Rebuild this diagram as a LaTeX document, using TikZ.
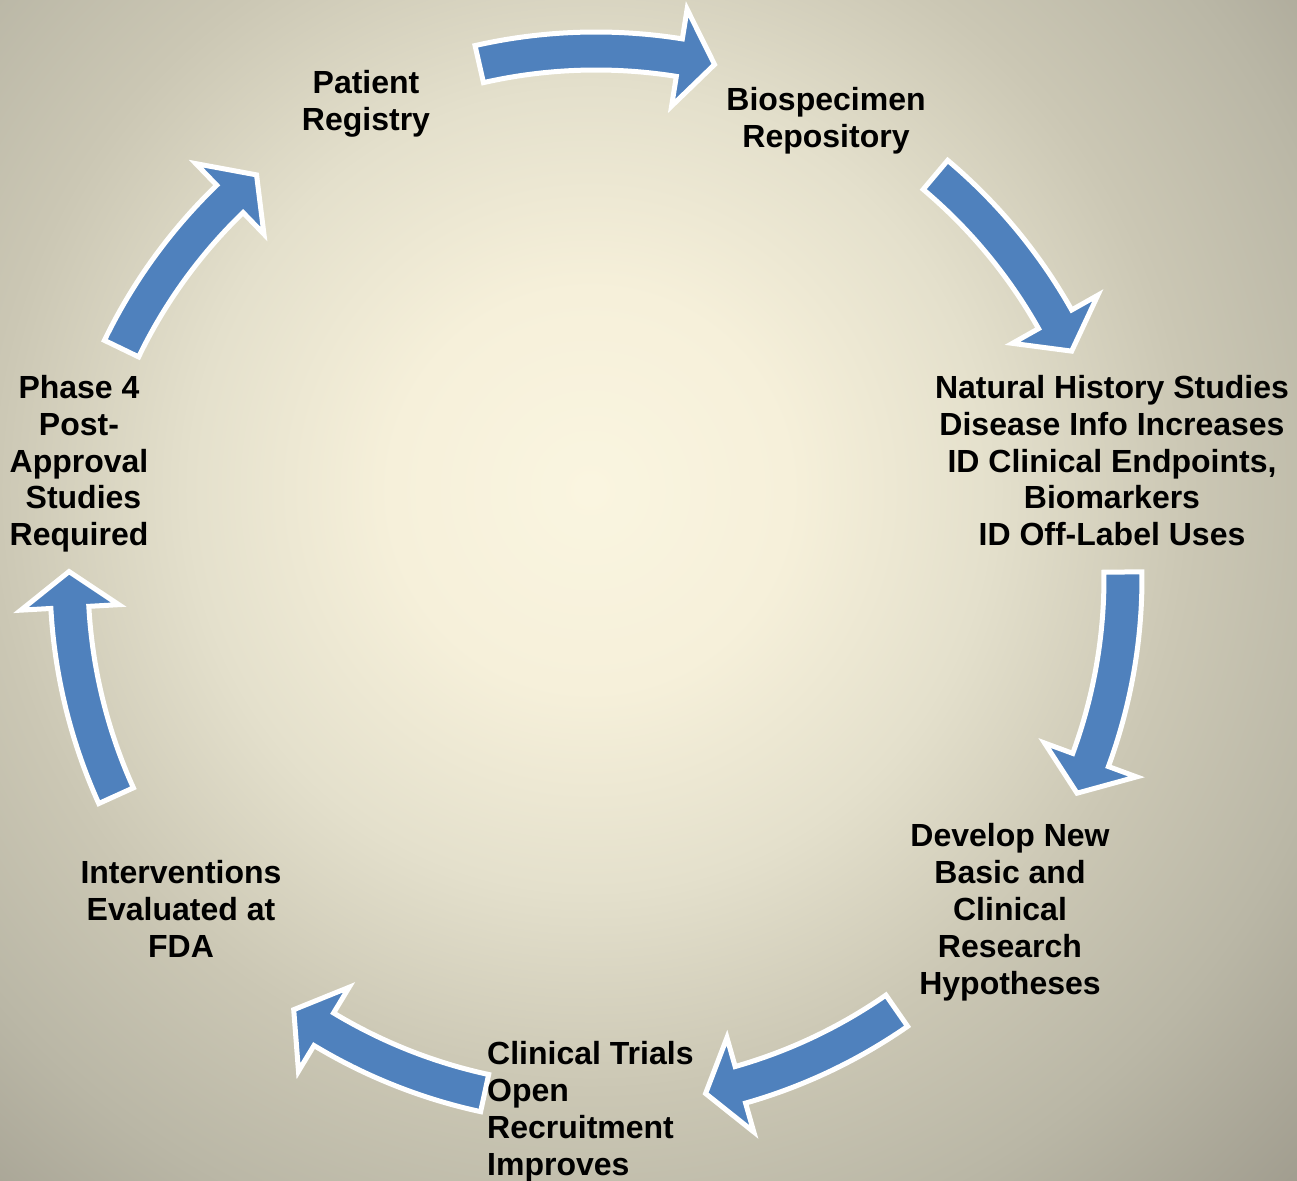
\documentclass[tikz,border=0pt]{standalone}
\usepackage{fontspec}
\setmainfont{Liberation Sans}
\definecolor{arrowblue}{RGB}{79,129,189}
\definecolor{bgA}{RGB}{250,245,224}
\definecolor{bgB}{RGB}{246,240,218}
\definecolor{bgC}{RGB}{228,224,204}
\definecolor{bgD}{RGB}{203,199,180}
\definecolor{bgE}{RGB}{186,183,166}
\definecolor{bgF}{RGB}{160,156,142}
\pgfdeclareradialshading{bgshade}{\pgfpoint{0bp}{0bp}}{color(0bp)=(bgA); color(5bp)=(bgB); color(10bp)=(bgC); color(15bp)=(bgD); color(19.5bp)=(bgE); color(25bp)=(bgF); color(50bp)=(bgF)}
\newcommand\lstrut{\rule{0pt}{0.95em}}
\newcommand\rstrut{\rule[-0.23em]{0pt}{0.23em}}
\newcommand\cycarrow[2]{%
  \pgfmathsetmacro\hb{#2+3.9}%
  \draw[cyclearrow,shift={(C)}] (#1:546) arc[start angle=#1, end angle=\hb, radius=546]
    -- (\hb:576) -- (#2:527) -- (\hb:478) -- (\hb:508)
    arc[start angle=\hb, end angle=#1, radius=508] -- cycle;}
\begin{document}
\begin{tikzpicture}[x=1pt,y=1pt,
  cyclearrow/.style={fill=arrowblue, draw=white, line width=5pt, line join=miter},
  txtlbl/.style={font=\fontsize{32}{36.8}\selectfont\bfseries, align=center, inner sep=0pt, text=black}]
\path[use as bounding box] (0,0) rectangle (1297,1180);
\clip (0,0) rectangle (1297,1180);
\shade[shading=bgshade] (-410,-310) rectangle (1590,1690);
\coordinate (C) at (596,602);
\cycarrow{102.8}{77.0}
\cycarrow{49.9}{25.5}
\cycarrow{0.65}{-24.1}
\cycarrow{-55.2}{-78.0}
\cycarrow{-102.2}{-125.0}
\cycarrow{-155.6}{-180.7}
\cycarrow{154.2}{130.1}
\node[txtlbl] (registry) at (366,1079.5) {\lstrut Patient\\Registry\rstrut};
\node[txtlbl] (biospec) at (826,1062.5) {\lstrut Biospecimen\\Repository\rstrut};
\node[txtlbl] (natural) at (1112,719.5) {\lstrut Natural History Studies\\Disease Info Increases\\ID Clinical Endpoints,\\Biomarkers\\ID Off-Label Uses\rstrut};
\node[txtlbl] (develop) at (1010,271) {\lstrut Develop New\\Basic and\\Clinical\\Research\\Hypotheses\rstrut};
\node[txtlbl, align=left, anchor=west] (trials) at (487,71.5) {\lstrut Clinical Trials\\Open\\Recruitment\\Improves\rstrut};
\node[txtlbl] (fda) at (181,271) {\lstrut Interventions\\Evaluated at\\FDA\rstrut};
\node[txtlbl] (phase) at (79,719.5) {\lstrut Phase 4\\Post-\\Approval\\\hspace*{0.278em}Studies\\Required\rstrut};
\end{tikzpicture}
\end{document}
